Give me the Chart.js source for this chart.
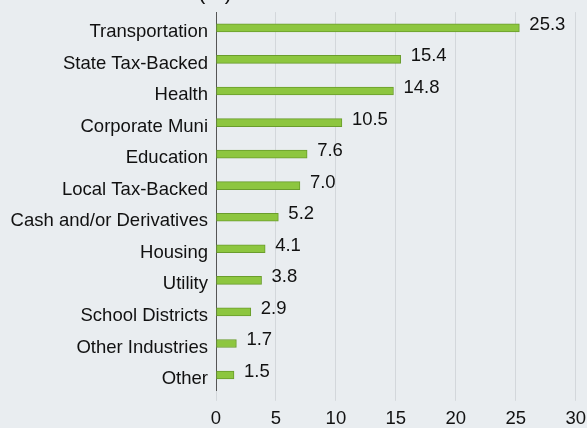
<!DOCTYPE html>
<html>
<head>
<meta charset="utf-8">
<script src="https://cdn.jsdelivr.net/npm/chart.js@4/dist/chart.umd.min.js"></script>
<style>
  html, body { margin: 0; padding: 0; background: #e9edf0; }
  #wrap { width: 587px; height: 428px; position: relative; overflow: hidden; }
  #c { position: absolute; left: 0; top: -7px; }
</style>
</head>
<body>
<div id="wrap"><canvas id="c" width="593" height="435"></canvas></div>
<script>
const categories = ["Transportation", "State Tax-Backed", "Health", "Corporate Muni", "Education", "Local Tax-Backed", "Cash and/or Derivatives", "Housing", "Utility", "School Districts", "Other Industries", "Other"];
const values = [25.3, 15.4, 14.8, 10.5, 7.6, 7.0, 5.2, 4.1, 3.8, 2.9, 1.7, 1.5];
const valueLabels = ["25.3", "15.4", "14.8", "10.5", "7.6", "7.0", "5.2", "4.1", "3.8", "2.9", "1.7", "1.5"];
const titleText = "(%)";
const xMin = 0, xMax = 30, xStep = 5;

const FONT = "'Liberation Sans', Arial, sans-serif";
const FS = 18.5;

const labelPlugin = {
  id: 'valueLabels',
  afterDatasetsDraw(chart) {
    const ctx = chart.ctx;
    const meta = chart.getDatasetMeta(0);
    ctx.save();
    ctx.font = FS + "px " + FONT;
    ctx.fillStyle = "#111111";
    ctx.textAlign = "left";
    ctx.textBaseline = "alphabetic";
    meta.data.forEach((bar, i) => {
      ctx.fillText(valueLabels[i], bar.x + 10, bar.y + 2);
    });
    ctx.restore();
  }
};

const titlePlugin = {
  id: 'cutTitle',
  afterDraw(chart) {
    const ctx = chart.ctx;
    ctx.save();
    ctx.font = "22px " + FONT;
    ctx.fillStyle = "#111111";
    ctx.textAlign = "center";
    ctx.textBaseline = "alphabetic";
    ctx.fillText(titleText, 215, 6);
    ctx.restore();
  }
};

new Chart(document.getElementById('c'), {
  type: 'bar',
  data: {
    labels: categories,
    datasets: [{
      data: values,
      backgroundColor: "#8dc63f",
      borderColor: "#6a9d2c",
      borderWidth: 1,
      borderSkipped: false,
      barThickness: 8
    }]
  },
  options: {
    indexAxis: 'y',
    responsive: false,
    animation: false,
    devicePixelRatio: 1,
    layout: { autoPadding: false, padding: { top: -1, left: 0, right: 10, bottom: -9 } },
    plugins: { legend: { display: false }, tooltip: { enabled: false } },
    scales: {
      x: {
        min: xMin, max: xMax,
        ticks: { stepSize: xStep, font: { family: FONT, size: FS }, color: "#111111", padding: 7 },
        grid: { color: "#d3d7db", lineWidth: 1, tickLength: 10, drawTicks: true },
        border: { display: false }
      },
      y: {
        afterFit(scale) { scale.width = 216; },
        ticks: { font: { family: FONT, size: FS }, color: "#111111", padding: 8, labelOffset: 4, autoSkip: false },
        grid: { display: false, drawTicks: false, tickLength: 0 },
        border: { display: true, color: "#555555", width: 1 }
      }
    }
  },
  plugins: [labelPlugin, titlePlugin]
});
</script>
</body>
</html>
